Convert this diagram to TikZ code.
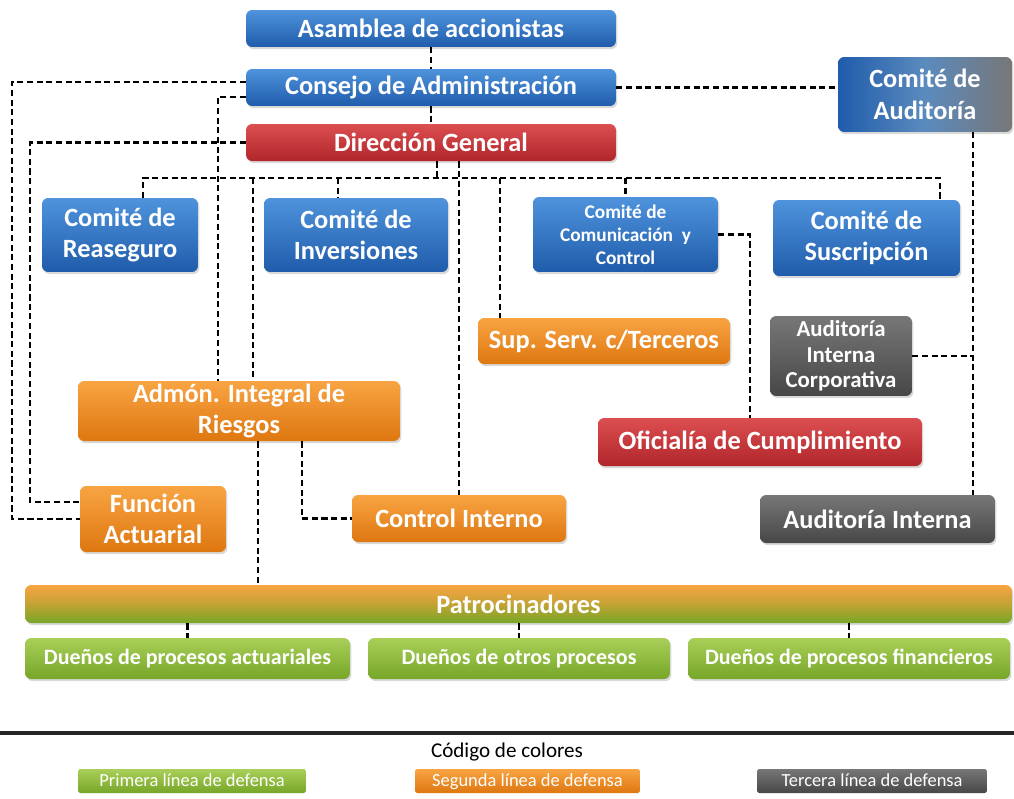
\documentclass[tikz,border=0pt]{standalone}
\usepackage{fontspec}
\setmainfont{Carlito}
\usepackage{tikz}
\usetikzlibrary{shadows}
\definecolor{AzulTop}{HTML}{4F93DC}
\definecolor{AzulBot}{HTML}{1F5CAB}
\definecolor{RojoTop}{HTML}{DC4E50}
\definecolor{RojoBot}{HTML}{B0262B}
\definecolor{NaranjaTop}{HTML}{F8A443}
\definecolor{NaranjaBot}{HTML}{DE7710}
\definecolor{GrisTop}{HTML}{777777}
\definecolor{GrisBot}{HTML}{474747}
\definecolor{VerdeTop}{HTML}{A9CF58}
\definecolor{VerdeBot}{HTML}{76A628}

\begin{document}
\begin{tikzpicture}[x=0.02cm, y=-0.02cm,
  caja/.style={rounded corners=3.5pt, text=white, align=center, inner sep=0pt,
    font=\fontsize{15}{18}\selectfont\bfseries,
    drop shadow={opacity=0.3, shadow xshift=0.8pt, shadow yshift=-1.2pt}},
  azul/.style={caja, top color=AzulTop, bottom color=AzulBot},
  rojo/.style={caja, top color=RojoTop, bottom color=RojoBot},
  naranja/.style={caja, top color=NaranjaTop, bottom color=NaranjaBot},
  gris/.style={caja, top color=GrisTop, bottom color=GrisBot},
  verde/.style={caja, top color=VerdeTop, bottom color=VerdeBot},
  leyenda/.style={rounded corners=1pt, text=white, inner sep=0pt,
    minimum height=0.48cm, text height=1.5ex, text depth=0.3ex,
    font=\fontsize{10.5}{12}\selectfont},
  liga/.style={draw=black, line width=1.3pt, dash pattern=on 3.5pt off 2pt}]
  \useasboundingbox (0,0) rectangle (1014,798);

  % gobierno
  \node[azul, minimum width=7.4cm, minimum height=0.74cm] (asamblea) at (431,28.5) {Asamblea de accionistas};
  \node[azul, minimum width=7.4cm, minimum height=0.74cm] (consejo) at (431,87.5) {Consejo de Administración};
  \node[rojo, minimum width=7.4cm, minimum height=0.74cm] (direccion) at (431,142.5) {Dirección General};
  \node[caja, left color=AzulBot, right color=GrisTop, middle color=AzulTop!70!GrisTop,
    minimum width=3.48cm, minimum height=1.5cm] (auditoria) at (925,94.5) {Comité de\\Auditoría};

  % comites
  \node[azul, minimum width=3.12cm, minimum height=1.48cm] (reaseguro) at (120,235) {Comité de\\Reaseguro};
  \node[azul, minimum width=3.68cm, minimum height=1.48cm] (inversiones) at (356,235) {Comité de\\Inversiones};
  \node[azul, minimum width=3.7cm, minimum height=1.5cm, font=\fontsize{11}{13}\selectfont\bfseries]
    (comunicacion) at (625.5,234.5) {Comité de\\Comunicación~ y\\Control};
  \node[azul, minimum width=3.74cm, minimum height=1.52cm] (suscripcion) at (866.5,238) {Comité de\\Suscripción};

  % segunda y tercera linea
  \node[naranja, minimum width=5.04cm, minimum height=0.92cm] (supserv) at (604,341) {Sup. Serv. c/Terceros};
  \node[gris, minimum width=2.84cm, minimum height=1.6cm, font=\fontsize{13}{14.5}\selectfont\bfseries]
    (aicorp) at (841,356) {Auditoría\\Interna\\Corporativa};
  \node[naranja, minimum width=6.44cm, minimum height=1.2cm] (admon) at (239,411) {Admón. Integral de\\Riesgos};
  \node[rojo, minimum width=6.48cm, minimum height=0.96cm] (oficialia) at (760,442) {Oficialía de Cumplimiento};
  \node[naranja, minimum width=2.92cm, minimum height=1.32cm] (funcion) at (153,519) {Función\\Actuarial};
  \node[naranja, minimum width=4.28cm, minimum height=0.94cm] (controlint) at (459,518.5) {Control Interno};
  \node[gris, minimum width=4.7cm, minimum height=0.96cm] (auditint) at (877.5,519) {Auditoría Interna};

  % primera linea
  \node[caja, top color=NaranjaTop, bottom color=VerdeBot, middle color=NaranjaBot!50!VerdeTop,
    minimum width=19.74cm, minimum height=0.76cm] (patro) at (518.5,604) {Patrocinadores};
  \node[verde, minimum width=6.5cm, minimum height=0.82cm, font=\fontsize{12.5}{14}\selectfont\bfseries]
    (duenos1) at (187.5,658.5) {Dueños de procesos actuariales};
  \node[verde, minimum width=6.04cm, minimum height=0.82cm, font=\fontsize{12.5}{14}\selectfont\bfseries]
    (duenos2) at (519,658.5) {Dueños de otros procesos};
  \node[verde, minimum width=6.44cm, minimum height=0.82cm, font=\fontsize{12.5}{14}\selectfont\bfseries]
    (duenos3) at (849,658.5) {Dueños de procesos financieros};

  % puntos de quiebre
  \coordinate (ext1) at (12,300);
  \coordinate (ext2) at (30,300);
  \coordinate (ext3) at (218,300);
  \coordinate (bus) at (437,178);
  \coordinate (b2) at (253,178);
  \coordinate (b3) at (338,178);
  \coordinate (b5) at (500,178);
  \coordinate (ofi) at (750,300);
  \coordinate (der) at (973,357);
  \coordinate (adm1) at (258,500);
  \coordinate (adm2) at (302,500);

  % ligas
  \draw[liga] (asamblea.south) -- (consejo.north);
  \draw[liga] (consejo.south) -- (direccion.north);
  \draw[liga] ([yshift=0.11cm]consejo.west) -| (ext1) |- (funcion.west);
  \draw[liga] (direccion.west) -| (ext2) |- ([yshift=0.34cm]funcion.west);
  \draw[liga] ([yshift=-0.19cm]consejo.west) -| (admon.north -| ext3);
  \draw[liga] (direccion.south -| bus) -- (bus);
  \draw[liga] ([xshift=0.46cm]reaseguro.north) |- (bus) -| ([xshift=1.47cm]suscripcion.north);
  \draw[liga] (b2) -- (admon.north -| b2);
  \draw[liga] (b3) -- (inversiones.north -| b3);
  \draw[liga] (b5) -- (supserv.north -| b5);
  \draw[liga] (comunicacion.north |- bus) -- (comunicacion.north);
  \draw[liga] (direccion.south -| controlint.north) -- (controlint.north);
  \draw[liga] (consejo.east) -- (consejo.east -| auditoria.west);
  \draw[liga] (auditoria.south -| der) -- (auditint.north -| der);
  \draw[liga] (aicorp.east) -- (aicorp.east -| der);
  \draw[liga] (comunicacion.east) -| (oficialia.north -| ofi);
  \draw[liga] (admon.south -| adm1) -- (patro.north -| adm1);
  \draw[liga] (admon.south -| adm2) |- (controlint.west);
  \foreach \d in {duenos1,duenos2,duenos3}
    \draw[liga] (patro.south -| \d.north) -- (\d.north);

  % codigo de colores
  \draw[line width=1.8pt, black!85] (0,733) -- (1014,733);
  \node[font=\fontsize{12}{14}\selectfont] (codigo) at (507,752) {Código de colores};
  \node[leyenda, top color=VerdeTop, bottom color=VerdeBot, minimum width=4.56cm] (primera) at (192,781) {Primera línea de defensa};
  \node[leyenda, top color=NaranjaTop, bottom color=NaranjaBot, minimum width=4.5cm] (segunda) at (527.5,781) {Segunda línea de defensa};
  \node[leyenda, top color=GrisTop, bottom color=GrisBot, minimum width=4.6cm] (tercera) at (872,781) {Tercera línea de defensa};
\end{tikzpicture}
\end{document}
